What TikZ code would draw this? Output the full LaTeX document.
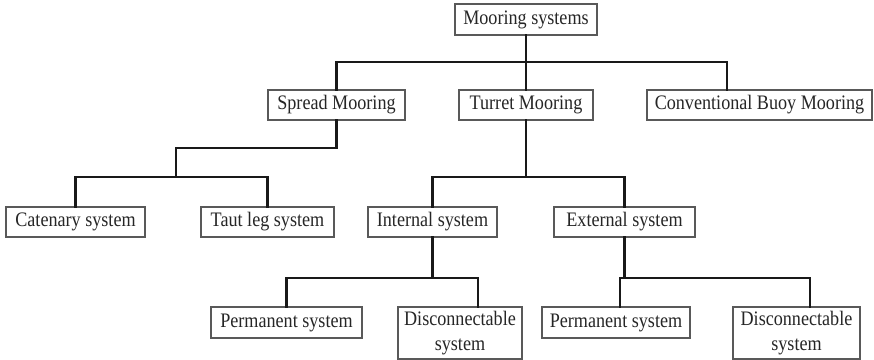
\documentclass[tikz,border=0pt]{standalone}
\usepackage{fontspec}
\setmainfont[FakeStretch=0.88]{Liberation Serif}
\begin{document}
\begin{tikzpicture}[x=1pt,y=-1pt,
  box/.style={draw=black!65,line width=1.2pt,fill=white,inner sep=0pt,minimum height=30pt,
    font=\fontsize{20.6}{25}\selectfont,text=black!85,align=center},
  conn/.style={line width=2.6pt,black!90,line cap=rect}]
\useasboundingbox (0,0) rectangle (874,359);
% nodes
\node[box,minimum width=142pt,minimum height=31pt] (root) at (526,19.5) {Mooring systems};
\node[box,minimum width=137pt] (spread) at (336.5,105) {Spread Mooring};
\node[box,minimum width=134pt] (turret) at (526,105) {Turret Mooring};
\node[box,minimum width=225pt] (conv) at (759.5,105) {Conventional Buoy Mooring};
\node[box,minimum width=139pt] (cat) at (75.5,222) {Catenary system};
\node[box,minimum width=133pt] (taut) at (267.5,222) {Taut leg system};
\node[box,minimum width=129pt] (int) at (432.5,222) {Internal system};
\node[box,minimum width=141pt] (ext) at (624.5,222) {External system};
\node[box,minimum width=151pt,minimum height=31pt] (perm1) at (286.5,322.5) {Permanent system};
\node[box,minimum width=124pt,minimum height=52pt] (disc1) at (460,333) {Disconnectable\\system};
\node[box,minimum width=148pt,minimum height=31pt] (perm2) at (616,322.5) {Permanent system};
\node[box,minimum width=127pt,minimum height=52pt] (disc2) at (796.5,333) {Disconnectable\\system};
% junction coordinates
\coordinate (j0) at (526,62);
\coordinate (convin) at ([xshift=-32.5pt]conv.north);
\coordinate (j1) at (336.5,148);
\coordinate (j1b) at (176,177);
\coordinate (j2) at (526,177);
\coordinate (j3) at (432.5,278);
\coordinate (disc1in) at ([xshift=18pt]disc1.north);
\coordinate (j4) at (624.5,278);
\coordinate (perm2in) at ([xshift=4pt]perm2.north);
\coordinate (disc2in) at ([xshift=13.5pt]disc2.north);
% connectors
\draw[conn] (root.south) -- (j0);
\draw[conn] (spread.north) |- (j0) -| (convin);
\draw[conn] (j0) -- (turret.north);
\draw[conn] (spread.south) -- (j1) -| (j1b);
\draw[conn] (cat.north) |- (j1b) -| (taut.north);
\draw[conn] (turret.south) -- (j2);
\draw[conn] (int.north) |- (j2) -| (ext.north);
\draw[conn] (int.south) -- (j3);
\draw[conn] (perm1.north) |- (j3) -| (disc1in);
\draw[conn] (ext.south) -- (j4);
\draw[conn] (perm2in) |- (j4) -| (disc2in);
\end{tikzpicture}
\end{document}
